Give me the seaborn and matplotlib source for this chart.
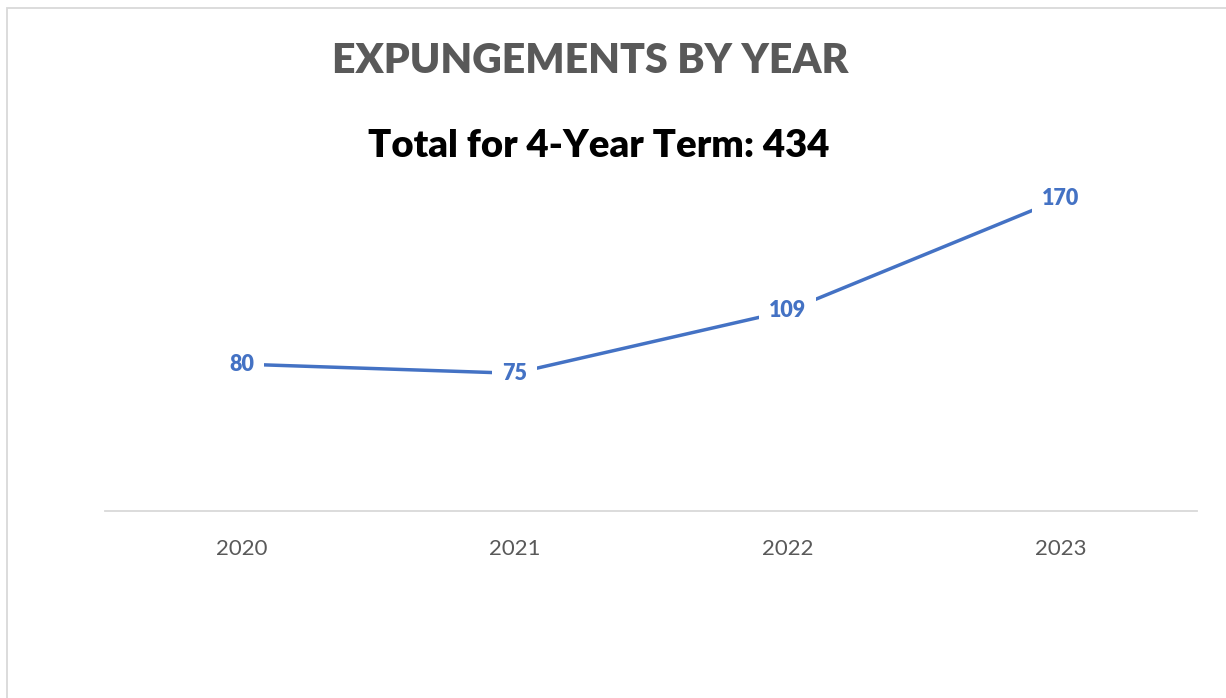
import pandas as pd
import seaborn as sns
import matplotlib.pyplot as plt
from matplotlib.patches import Rectangle

years = ['2020', '2021', '2022', '2023']
expungements = [80, 75, 109, 170]

title = 'EXPUNGEMENTS BY YEAR'
subtitle = 'Total for 4-Year Term: 434'

blue = '#4472C4'
grey_text = '#595959'

sns.set_style('white')
plt.rcParams['font.family'] = ['Lato', 'DejaVu Sans']

df = pd.DataFrame({'year': years, 'count': expungements})

fig = plt.figure(figsize=(12.26, 6.98), dpi=100, facecolor='white')
ax = fig.add_axes([105 / 1226, 1 - 511 / 698, 1092 / 1226, (511 - 180.5) / 698])

sns.lineplot(data=df, x='year', y='count', ax=ax, color=blue, linewidth=2.5, sort=False)

for i, v in enumerate(expungements):
    ax.text(i, v, str(v), ha='center', va='center', fontsize=15.5, fontweight='heavy',
            color=blue, zorder=5,
            bbox=dict(boxstyle='square,pad=0.45', fc='white', ec='none'))

ax.set_xlim(-0.5, 3.5)
ax.set_ylim(0, 180)
ax.set_yticks([])
ax.set_xlabel('')
ax.set_ylabel('')
for s in ['top', 'right', 'left']:
    ax.spines[s].set_visible(False)
ax.spines['bottom'].set_color('#D9D9D9')
ax.spines['bottom'].set_linewidth(1.3)
ax.tick_params(axis='x', length=0, pad=20, labelsize=16, labelcolor=grey_text)

fig.text(590 / 1226, 1 - 73 / 698, title, ha='center', va='baseline',
         fontsize=29.5, fontweight='heavy', color=grey_text)
fig.text(599 / 1226, 1 - 157 / 698, subtitle, ha='center', va='baseline',
         fontsize=27.5, fontweight='heavy', color='black')

# chart frame, only top and left edges fall inside the image
fig.patches.append(Rectangle((7 / 1226, -0.1), 1.2, 1 - 8 / 698 + 0.1,
                             transform=fig.transFigure, fill=False,
                             ec='#D9D9D9', lw=1.3))

plt.savefig('out.png', dpi=100, facecolor='white')
